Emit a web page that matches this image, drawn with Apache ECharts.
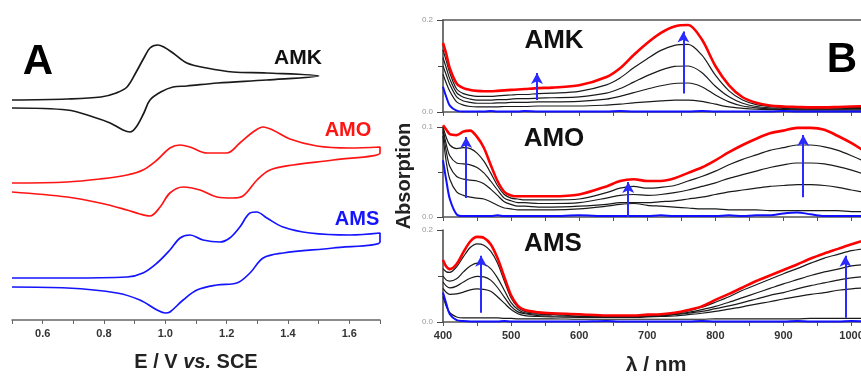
<!DOCTYPE html>
<html>
<head>
<meta charset="utf-8">
<script src="https://cdn.jsdelivr.net/npm/echarts@6/dist/echarts.min.js"></script>
<style>
html,body{margin:0;padding:0;background:#fff;}
#chart{width:861px;height:376px;}
</style>
</head>
<body>
<div id="chart"></div>
<script>
// ---------- Panel A: cyclic voltammograms (E / V vs. SCE, current in arbitrary units) ----------
const amkFwdE = [0.5,0.68,0.79,0.84,0.875,0.905,0.93,0.95,0.975,0.995,1.025,1.07,1.135,1.22,1.33,1.5];
const amkFwdI = [5,6,8,12,18,33,47,57,60,58,52,42,37,33,32,29];
const amkRevE = [1.5,1.33,1.17,1.07,1.025,0.985,0.95,0.93,0.905,0.885,0.862,0.82,0.765,0.68,0.5];
const amkRevI = [29,25,22,19,18,13,5,-8,-22,-27,-25,-18,-12,-5,-3];

const amoFwdE = [0.5,0.68,0.787,0.875,0.927,0.973,1.015,1.048,1.08,1.136,1.2,1.243,1.286,1.319,1.35,1.406,1.494,1.6,1.7];
const amoFwdI = [4,5,8,12,17,27,39,42,40,34,34,44,55,60,57,48,41,39,40];
const amoRevE = [1.7,1.547,1.416,1.341,1.299,1.253,1.22,1.168,1.113,1.058,1.015,0.983,0.95,0.917,0.875,0.787,0.68,0.5];
const amoRevI = [34,27,22,17,7,-9,-11,-10,-3,0,-6,-20,-29,-27,-23,-16,-10,-5];

const amsFwdE = [0.5,0.68,0.875,0.927,0.973,1.015,1.048,1.08,1.123,1.178,1.21,1.243,1.276,1.298,1.331,1.384,1.472,1.602,1.7];
const amsFwdI = [4,4,5,9,19,32,44,47,42,40,44,55,69,70,64,55,49,47,49];
const amsRevE = [1.7,1.547,1.384,1.319,1.276,1.233,1.168,1.103,1.058,1.015,1.0,0.973,0.917,0.842,0.68,0.5];
const amsRevI = [40,34,29,24,9,-1,-3,-8,-18,-30,-31,-28,-18,-11,-6,-5];

// vertical offsets used to stack the three voltammograms
const cvOffsets = [215, 133, 38];
const cvNames = ['AMK', 'AMO', 'AMS'];

// ---------- Panel B: spectroelectrochemistry (absorption vs wavelength) ----------
const wl = [400,405,410,420,430,440,450,460,470,480,490,500,510,520,540,560,600,640,660,680,700,720,740,760,780,800,820,840,860,880,900,920,940,960,980,1000,1030];

const amkBlue = [.055,.032,.014,.003,.001,.001,.001,.001,.002,.001,.001,.001,.001,.002,.001,.001,.001,.001,.002,.001,.001,.001,.001,.001,.002,.001,.001,.001,.001,.001,.002,.001,.001,.001,.001,.001,.001];
const amkK4 = [.082,.062,.045,.022,.015,.012,.011,.011,.011,.011,.012,.012,.012,.012,.013,.013,.013,.015,.017,.020,.022,.024,.026,.026,.023,.017,.011,.008,.006,.005,.005,.004,.004,.004,.004,.004,.004];
const amkK3 = [.100,.080,.060,.033,.024,.021,.019,.019,.019,.020,.020,.021,.021,.021,.022,.022,.023,.028,.034,.042,.050,.057,.062,.063,.055,.037,.022,.013,.009,.007,.006,.006,.006,.006,.006,.006,.006];
const amkK2 = [.118,.095,.072,.042,.032,.028,.026,.026,.026,.027,.027,.028,.029,.029,.030,.031,.033,.041,.051,.065,.079,.091,.099,.100,.086,.056,.033,.019,.012,.009,.008,.007,.007,.007,.007,.008,.008];
const amkK1 = [.135,.110,.085,.050,.040,.036,.034,.034,.034,.035,.036,.037,.038,.038,.040,.041,.045,.059,.074,.096,.116,.134,.145,.147,.124,.080,.046,.026,.016,.012,.010,.009,.009,.009,.009,.010,.010];
const amkRed = [.150,.125,.095,.062,.052,.048,.046,.045,.045,.046,.047,.048,.049,.050,.052,.053,.058,.076,.095,.124,.150,.172,.186,.189,.158,.100,.058,.032,.020,.014,.012,.011,.010,.010,.011,.012,.013];

const amoBlue = [.063,.040,.020,.003,.001,.001,.001,.001,.001,.002,.001,.001,.001,.001,.001,.001,.002,.001,.001,.001,.001,.002,.001,.001,.001,.001,.002,.001,.002,.002,.004,.005,.003,.001,.001,.001,.001];
const amoK4 = [.090,.060,.042,.028,.024,.022,.021,.020,.017,.013,.010,.009,.008,.008,.008,.008,.009,.012,.014,.015,.013,.012,.011,.010,.009,.009,.008,.008,.008,.007,.007,.007,.007,.007,.007,.006,.006];
const amoK3 = [.095,.072,.056,.045,.042,.041,.040,.037,.031,.024,.017,.014,.012,.012,.011,.011,.012,.014,.016,.016,.016,.017,.018,.020,.022,.025,.028,.030,.032,.034,.035,.036,.036,.035,.033,.030,.026];
const amoK2 = [.098,.080,.068,.060,.059,.058,.055,.049,.040,.030,.021,.018,.016,.016,.015,.015,.016,.021,.024,.025,.024,.025,.027,.030,.034,.038,.043,.047,.051,.055,.058,.060,.060,.059,.056,.052,.045];
const amoK1 = [.100,.088,.080,.076,.077,.076,.071,.062,.049,.035,.025,.021,.020,.019,.019,.019,.020,.027,.032,.034,.032,.033,.035,.040,.045,.051,.058,.064,.069,.074,.077,.080,.080,.078,.074,.068,.058];
const amoRed = [.102,.097,.092,.091,.095,.096,.089,.077,.058,.040,.028,.024,.023,.023,.023,.023,.025,.034,.040,.042,.040,.040,.043,.049,.055,.063,.072,.080,.087,.093,.096,.099,.099,.097,.090,.082,.068];

const amsBlue = [.064,.039,.017,.004,.002,.001,.001,.001,.001,.001,.002,.001,.001,.001,.001,.001,.001,.002,.001,.001,.001,.001,.001,.001,.002,.001,.001,.001,.001,.001,.001,.002,.001,.001,.001,.002,.001];
const amsK5 = [.055,.033,.020,.011,.009,.009,.009,.009,.009,.009,.008,.008,.007,.007,.007,.007,.006,.006,.006,.006,.006,.006,.006,.006,.006,.007,.007,.007,.007,.007,.007,.007,.008,.008,.008,.008,.008];
const amsK4 = [.073,.064,.060,.061,.065,.070,.072,.071,.067,.055,.041,.027,.018,.014,.012,.011,.010,.010,.010,.010,.011,.012,.013,.016,.019,.023,.028,.033,.039,.044,.050,.055,.060,.064,.069,.072,.075];
const amsK3 = [.087,.078,.074,.078,.087,.095,.099,.098,.091,.075,.054,.034,.022,.018,.014,.013,.012,.011,.011,.011,.012,.013,.016,.019,.023,.029,.035,.042,.050,.058,.064,.072,.079,.085,.091,.096,.100];
const amsK2 = [.100,.091,.089,.094,.109,.122,.128,.126,.116,.096,.069,.042,.027,.020,.017,.016,.013,.012,.012,.012,.013,.014,.017,.021,.027,.034,.043,.053,.063,.073,.083,.092,.101,.109,.115,.122,.126];
const amsK1 = [.116,.109,.108,.120,.142,.162,.170,.167,.154,.128,.089,.052,.032,.023,.019,.018,.016,.013,.013,.013,.014,.016,.019,.024,.032,.043,.055,.069,.081,.093,.105,.116,.128,.139,.147,.155,.162];
const amsRed = [.135,.120,.115,.126,.152,.175,.185,.183,.169,.139,.098,.058,.035,.026,.021,.019,.017,.014,.014,.014,.016,.017,.020,.026,.034,.048,.061,.075,.089,.101,.113,.125,.138,.149,.159,.169,.183];

// arrows: [wavelength, from A, to A]
const amkArrows = [[538, 0.026, 0.085], [753, 0.040, 0.175]];
const amoArrows = [[434, 0.021, 0.089], [672, 0.000, 0.039], [929, 0.022, 0.091]];
const amsArrows = [[456, 0.020, 0.144], [991, 0.009, 0.144]];

// axis settings
const bYMax = [0.2, 0.1, 0.2];
const bPanelNames = ['AMK', 'AMO', 'AMS'];

// ---------------------------------------------------------------------------
const FONT = '"Liberation Sans", Arial, Helvetica, sans-serif';
const RED = '#ff0000', BLUE = '#1010ff', BLACK = '#1a1a1a';

function cvData(fE, fI, rE, rI, off) {
  const d = [];
  fE.forEach((e, i) => d.push([e, fI[i] + off]));
  rE.forEach((e, i) => d.push([e, rI[i] + off]));
  return d;
}
function spec(vals) { return wl.map((w, i) => [w, vals[i]]); }

const cvColors = [BLACK, '#ff1414', '#1414ff'];
const cvSets = [
  [amkFwdE, amkFwdI, amkRevE, amkRevI],
  [amoFwdE, amoFwdI, amoRevE, amoRevI],
  [amsFwdE, amsFwdI, amsRevE, amsRevI]
];

const series = [];
cvSets.forEach((s, k) => {
  series.push({
    name: cvNames[k], type: 'line', xAxisIndex: 0, yAxisIndex: 0,
    data: cvData(s[0], s[1], s[2], s[3], cvOffsets[k]),
    smooth: 0.35, showSymbol: false, symbol: 'none',
    lineStyle: { color: cvColors[k], width: 1.7 }, silent: true, animation: false
  });
});

const panels = [
  { blue: amkBlue, blacks: [amkK4, amkK3, amkK2, amkK1], red: amkRed, arrows: amkArrows },
  { blue: amoBlue, blacks: [amoK4, amoK3, amoK2, amoK1], red: amoRed, arrows: amoArrows },
  { blue: amsBlue, blacks: [amsK5, amsK4, amsK3, amsK2, amsK1], red: amsRed, arrows: amsArrows }
];

panels.forEach((p, k) => {
  const g = k + 1;
  p.blacks.forEach(b => {
    series.push({ type: 'line', xAxisIndex: g, yAxisIndex: g, data: spec(b), smooth: 0.3,
      symbol: 'none', clip: true, lineStyle: { color: BLACK, width: 1.2 }, silent: true, animation: false, z: 2 });
  });
  series.push({ type: 'line', xAxisIndex: g, yAxisIndex: g, data: spec(p.blue), smooth: 0.3,
    symbol: 'none', clip: true, lineStyle: { color: BLUE, width: 2 }, silent: true, animation: false, z: 3 });
  series.push({ type: 'line', xAxisIndex: g, yAxisIndex: g, data: spec(p.red), smooth: 0.3,
    symbol: 'none', clip: false, lineStyle: { color: RED, width: 2.6 }, silent: true, animation: false, z: 4,
    markLine: {
      silent: true, animation: false, symbol: ['none', 'arrow'], symbolSize: [9, 11],
      lineStyle: { color: '#2a2aff', width: 2, type: 'solid' }, label: { show: false },
      data: p.arrows.map(a => [{ coord: [a[0], a[1]] }, { coord: [a[0], a[2]] }])
    }
  });
});

// spectral panels: the right part of the original axis runs past the picture edge
const gridsB = [
  { left: 443, width: 429, top: 20, height: 92, outerBoundsMode: 'none', containLabel: false },
  { left: 443, width: 429, top: 127, height: 90, outerBoundsMode: 'none', containLabel: false },
  { left: 443, width: 429, top: 230, height: 92, outerBoundsMode: 'none', containLabel: false }
];
const bXMin = 400, bXMax = 1030;

const xAxes = [{
  gridIndex: 0, type: 'value', min: 0.5, max: 1.7, interval: 0.1,
  axisLine: { show: true, lineStyle: { color: '#666', width: 1.5 } },
  axisTick: { show: true, length: 4, lineStyle: { color: '#666', width: 1 } },
  axisLabel: { formatter: v => (Math.round(v * 10) % 2 === 0 ? v.toFixed(1) : ''), fontSize: 11,
    fontWeight: 'bold', color: '#333', margin: 8, fontFamily: FONT },
  splitLine: { show: false },
  name: '{a|E / V }{b|vs.}{a| SCE}', nameLocation: 'middle', nameGap: 32,
  nameTextStyle: { rich: {
    a: { fontSize: 20, fontWeight: 'bold', fontFamily: FONT, color: '#222' },
    b: { fontSize: 20, fontWeight: 'bold', fontStyle: 'italic', fontFamily: FONT, color: '#222' } } }
}];
const yAxes = [{ gridIndex: 0, type: 'value', min: 0, max: 320, show: false }];

gridsB.forEach((g, k) => {
  const gi = k + 1;
  xAxes.push({
    gridIndex: gi, type: 'value', min: bXMin, max: bXMax, interval: 50,
    axisLine: { show: true, lineStyle: { color: '#555', width: 1.5 } },
    axisTick: { show: true, length: 4, lineStyle: { color: '#555' } },
    axisLabel: { show: gi === 3, formatter: v => (v % 100 === 0 ? String(v) : ''), fontSize: 11,
      fontWeight: 'bold', color: '#333', margin: 8, fontFamily: FONT, showMaxLabel: false },
    splitLine: { show: false }
  });
  yAxes.push({
    gridIndex: gi, type: 'value', min: 0, max: bYMax[k], interval: bYMax[k],
    axisLine: { show: true, lineStyle: { color: '#444', width: 1.5 } },
    axisTick: { show: true, length: 6, lineStyle: { color: '#444' } },
    minorTick: { show: true, splitNumber: 2, length: 5, lineStyle: { color: '#444' } },
    axisLabel: { fontSize: 8, color: '#999', margin: 10, fontFamily: FONT, formatter: v => v.toFixed(1) },
    splitLine: { show: false }, minorSplitLine: { show: false }
  });
});
// frame line on top of the first spectral panel
xAxes.push({
  gridIndex: 1, type: 'value', position: 'top', min: bXMin, max: bXMax,
  axisLine: { show: true, lineStyle: { color: '#555', width: 1.5 } },
  axisTick: { show: false }, axisLabel: { show: false }, splitLine: { show: false }
});

function txt(text, x, y, size, color, rot) {
  return { type: 'text', x: x, y: y, rotation: rot || 0, silent: true,
    style: { text: text, fontSize: size, fontWeight: 'bold', fontFamily: FONT, fill: color,
      align: 'center', verticalAlign: 'middle' } };
}

const option = {
  backgroundColor: '#fff',
  animation: false,
  grid: [{ left: 12, right: 481, top: 0, bottom: 56, outerBoundsMode: 'none', containLabel: false }].concat(gridsB),
  xAxis: xAxes,
  yAxis: yAxes,
  series: series,
  graphic: [
    txt('A', 38, 62, 42, '#000'),
    txt('B', 842, 60, 42, '#000'),
    txt(cvNames[0], 298, 58, 21, '#111'),
    txt(cvNames[1], 348, 130, 20, '#ff1414'),
    txt(cvNames[2], 357, 219, 20, '#1414ff'),
    txt(bPanelNames[0], 554, 41, 26, '#111'),
    txt(bPanelNames[1], 554, 139, 26, '#111'),
    txt(bPanelNames[2], 553, 244, 26, '#111'),
    txt('Absorption', 404, 176, 20, '#222', Math.PI / 2),
    txt('λ / nm', 656, 365, 21, '#222')
  ]
};

const chart = echarts.init(document.getElementById('chart'), null, { renderer: 'canvas' });
chart.setOption(option);
</script>
</body>
</html>
